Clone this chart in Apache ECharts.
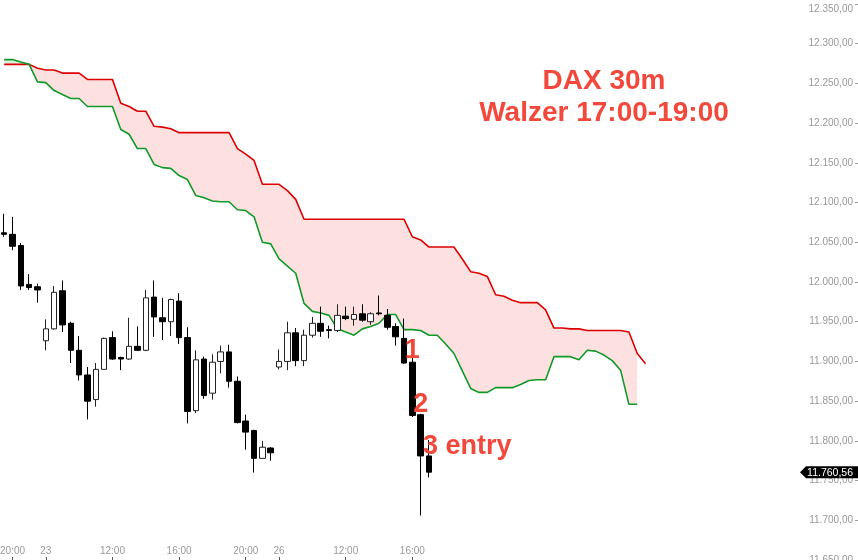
<!DOCTYPE html>
<html>
<head>
<meta charset="utf-8">
<script src="https://cdn.jsdelivr.net/npm/echarts@6/dist/echarts.min.js"></script>
<style>
html,body{margin:0;padding:0;background:#fff;}
#chart{width:858px;height:560px;}
</style>
</head>
<body>
<div id="chart"></div>
<script>
// ---- candle time categories (30m) ----
const categories = [
  '22 19:30','22 20:00','22 20:30','22 21:00','22 21:30',
  '23 08:00','23 08:30','23 09:00','23 09:30','23 10:00','23 10:30','23 11:00','23 11:30',
  '23 12:00','23 12:30','23 13:00','23 13:30','23 14:00','23 14:30','23 15:00','23 15:30',
  '23 16:00','23 16:30','23 17:00','23 17:30','23 18:00','23 18:30','23 19:00','23 19:30',
  '23 20:00','23 20:30','23 21:00','23 21:30',
  '26 08:00','26 08:30','26 09:00','26 09:30','26 10:00','26 10:30','26 11:00','26 11:30',
  '26 12:00','26 12:30','26 13:00','26 13:30','26 14:00','26 14:30','26 15:00','26 15:30',
  '26 16:00','26 16:30','26 17:00'
];
const labelTimes = ['12:00','16:00','20:00'];
const dayStart = '08:00';

// ---- OHLC ----
const opens  = [12062,12060,12046,11997,11994, 11926,11941,11989,11948,11914,11883,11852,11890,
  11930,11905,11903,11919,11914,11981,11955,11950, 11976,11930,11838,11903,11860,11900,11912,11875,
  11825,11813,11778,11791, 11893,11900,11936,11901,11933,11948,11940,11939,
  11957,11953,11960,11950,11961,11958,11944,11929, 11899,11833,11781];
const closes = [12060,12045,11995,11993,11990, 11941,11987,11946,11914,11883,11850,11890,11929,
  11903,11903,11919,11914,11980,11956,11950,11978, 11930,11837,11902,11857,11899,11912,11875,11823,
  11811,11778,11792,11785, 11900,11936,11901,11933,11948,11938,11939,11958,
  11954,11959,11952,11960,11960,11943,11931,11898, 11832,11781,11760.56];
const lows   = [12057,12040,11990,11990,11974, 11914,11940,11937,11898,11876,11827,11843,11890,
  11902,11889,11902,11913,11913,11931,11927,11932, 11922,11822,11835,11853,11852,11885,11867,11822,
  11789,11760,11778,11775, 11890,11889,11894,11894,11930,11931,11929,11937,
  11952,11945,11950,11946,11958,11940,11920,11897, 11830,11706,11754];
const highs  = [12086,12082,12049,12010,11998, 11953,11995,12002,11950,11932,11893,11898,11930,
  11938,11906,11955,11944,11990,12002,11980,11979, 11986,11943,11914,11906,11909,11920,11921,11881,
  11833,11814,11800,11792, 11915,11950,11942,11940,11956,11969,11945,11972,
  11969,11969,11972,11962,11983,11966,11948,11954, 11906,11834,11801];

// ---- cloud spans (shifted 26 bars forward) ----
const spanRed = [12274,12274,12274,12274,12269,12267,12267,12263,12263,12263,12255,12255,12255,12255,
  12225,12221,12215,12215,12196,12195,12193,
  12188,12188,12188,12188,12188,12188,12188,
  12168,12161,12153,12123,12123,12123,12115,12104,
  12079,12079,12079,12079,12079,12079,12079,12079,12079,12079,12079,12079,12079,
  12057,12053,12044,12044,12044,12044,12029,12013,12011,12007,
  11984,11982,11977,11974,11974,11974,11965,11942,11942,11941,11941,
  11939,11939,11939,11939,11939,11937,11910,11897];
const spanGreen = [12280,12280,12277,12274,12252,12251,12241,12236,12231,12231,12221,12221,12221,12221,
  12192,12186,12168,12168,12148,12144,12143,
  12134,12129,12109,12106,12102,12101,12101,
  12091,12090,12082,12050,12048,12029,12020,12011,
  11973,11963,11961,11958,11941,11937,11933,11941,11944,11948,11959,11959,11940,
  11940,11939,11933,11933,11922,11910,11888,11866,11861,11861,
  11867,11867,11867,11871,11876,11877,11877,11906,11906,11906,11902,
  11914,11913,11908,11901,11889,11846,11846];

const lastPrice = 11760.56;
const titleLines = ['DAX 30m', 'Walzer 17:00-19:00'];
const annotations = [
  {text: '1', idx: 49, value: 11918, align: 'center'},
  {text: '2', idx: 50, value: 11850, align: 'center'},
  {text: '3 entry', idx: 51, value: 11797, align: 'left'}
];

// ---- build ----
const futureSlots = 51;
const xCats = categories.concat(Array.from({length: futureSlots}, (_, k) => 'future ' + (k + 1)));
const candleData = opens.map((o, i) => [o, closes[i], lows[i], highs[i]]);
const cloudLow = spanRed.map((r, i) => Math.min(r, spanGreen[i]));
const bandPink = spanRed.map((r, i) => Math.max(r - spanGreen[i], 0));
const bandGreen = spanRed.map((r, i) => Math.max(spanGreen[i] - r, 0));

function showLabel(idx) {
  const c = xCats[idx];
  if (!c || c.indexOf('future') === 0) return false;
  const t = c.split(' ')[1];
  return t === dayStart || labelTimes.indexOf(t) >= 0;
}
function fmtLabel(val) {
  const parts = val.split(' ');
  return parts[1] === dayStart ? parts[0] : parts[1];
}
function deFmt(v) {
  const s = Number(v).toFixed(2).split('.');
  return s[0].replace(/\B(?=(\d{3})+(?!\d))/g, '.') + ',' + s[1];
}

const FONT = '"Liberation Sans", Arial, Helvetica, sans-serif';
const RED = '#f2493c';
const NUDGE = 3;

const chart = echarts.init(document.getElementById('chart'), null, {renderer: 'canvas'});
chart.setOption({
  animation: false,
  backgroundColor: '#ffffff',
  grid: {left: 0, right: 0, top: 4, bottom: 0, containLabel: false, outerBoundsMode: 'none'},
  xAxis: {
    type: 'category',
    data: xCats,
    boundaryGap: true,
    axisLine: {show: false},
    axisTick: {show: true, inside: true, length: 3, alignWithLabel: true,
      interval: (i) => showLabel(i), lineStyle: {color: '#555'}},
    axisLabel: {show: true, inside: true, margin: 4, interval: (i) => showLabel(i),
      formatter: fmtLabel, color: '#999', fontSize: 10, fontFamily: FONT},
    splitLine: {show: false}
  },
  yAxis: {
    type: 'value',
    position: 'right',
    min: 11650, max: 12350, interval: 50,
    axisLine: {show: false},
    axisTick: {show: true, inside: true, length: 3, lineStyle: {color: '#999'}},
    axisLabel: {inside: true, margin: 5, color: '#999', fontSize: 10, fontFamily: FONT,
      formatter: deFmt, verticalAlignMaxLabel: 'top'},
    splitLine: {show: false}
  },
  series: [
    {type: 'line', data: cloudLow, stack: 'cloud', symbol: 'none', lineStyle: {opacity: 0}, silent: true, z: 1},
    {type: 'line', data: bandPink, stack: 'cloud', symbol: 'none', lineStyle: {opacity: 0},
      areaStyle: {color: '#fde1e1', opacity: 1}, silent: true, z: 1},
    {type: 'line', data: bandGreen, stack: 'cloud', symbol: 'none', lineStyle: {opacity: 0},
      areaStyle: {color: '#d9f2dc', opacity: 1}, silent: true, z: 1},
    {type: 'line', data: spanRed, symbol: 'none', lineStyle: {color: '#dd0000', width: 1.6}, z: 2},
    {type: 'line', data: spanGreen, symbol: 'none', lineStyle: {color: '#119928', width: 1.6}, z: 2},
    {type: 'candlestick', data: candleData, barWidth: 6, z: 3,
      itemStyle: {color: '#ffffff', color0: '#000000', borderColor: '#222222', borderColor0: '#000000', borderWidth: 1}}
  ]
});

function addGraphics() {
  const g = [];
  g.push({type: 'text', x: 604, y: 79 + 2, z: 10,
    style: {text: titleLines[0], fill: RED, font: 'bold 28px ' + FONT, textAlign: 'center', textVerticalAlign: 'middle'}});
  g.push({type: 'text', x: 604, y: 111 + 2, z: 10,
    style: {text: titleLines[1], fill: RED, font: 'bold 28px ' + FONT, textAlign: 'center', textVerticalAlign: 'middle'}});
  annotations.forEach((a) => {
    const p = chart.convertToPixel({xAxisIndex: 0, yAxisIndex: 0}, [a.idx, a.value]);
    g.push({type: 'text', x: a.align === 'left' ? p[0] - 6 : p[0], y: p[1] + NUDGE, z: 10,
      style: {text: a.text, fill: RED, font: 'bold 27px ' + FONT, textAlign: a.align, textVerticalAlign: 'middle'}});
  });
  const py = chart.convertToPixel({yAxisIndex: 0}, lastPrice);
  const right = 858, left = 806, h = 6;
  g.push({type: 'polygon', z: 10,
    shape: {points: [[left - 6, py], [left, py - h], [right, py - h], [right, py + h], [left, py + h]]},
    style: {fill: '#000'}});
  g.push({type: 'text', x: 853, y: py + 0.5, z: 11,
    style: {text: deFmt(lastPrice), fill: '#fff', font: '10.5px ' + FONT, textAlign: 'right', textVerticalAlign: 'middle'}});
  chart.setOption({graphic: g});
}
addGraphics();
</script>
</body>
</html>
